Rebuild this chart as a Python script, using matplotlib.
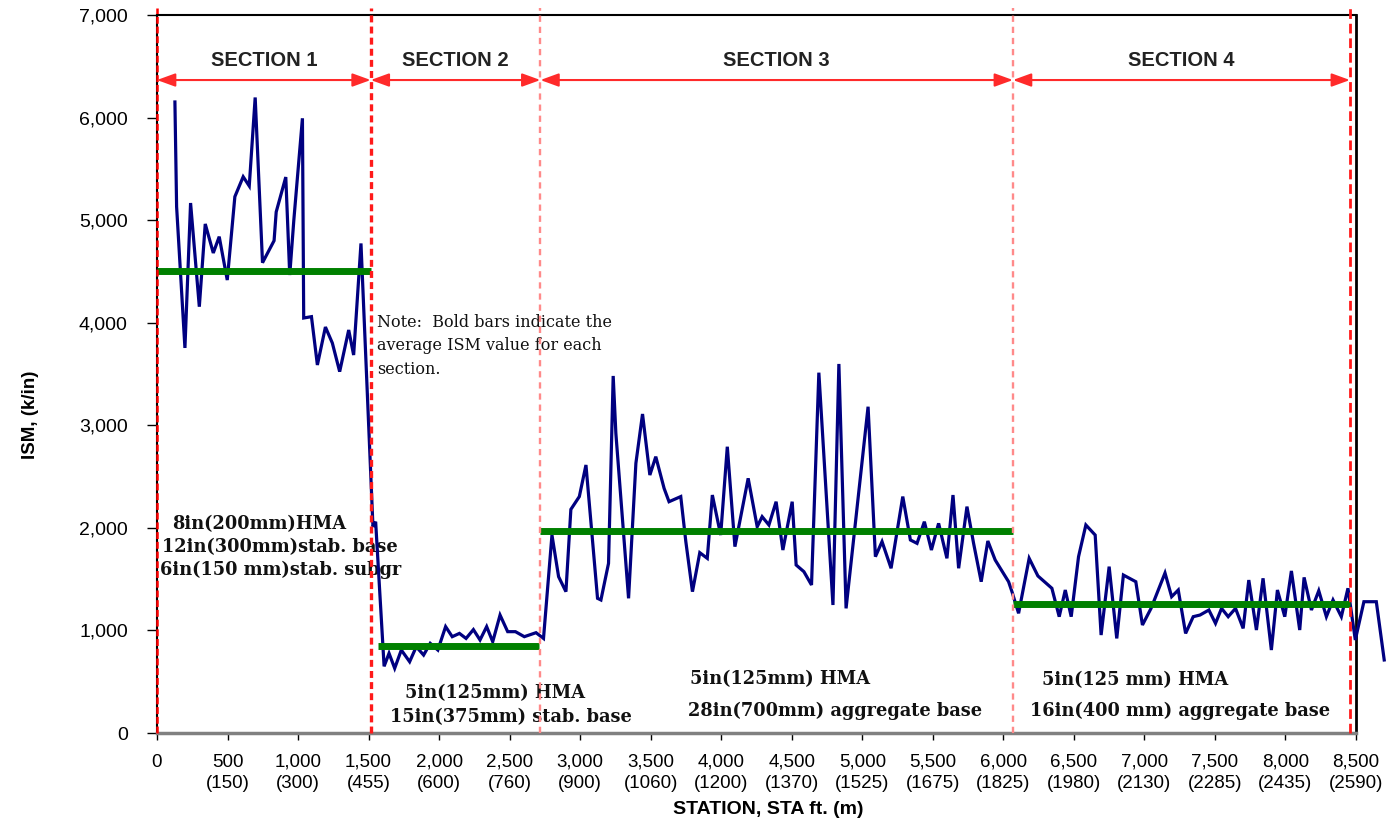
import matplotlib
matplotlib.use("Agg")
import matplotlib.pyplot as plt

plt.rcParams["lines.scale_dashes"] = False

# Stiffness survey along the station line
station_ft = [
    127, 139, 198, 238, 300, 342, 399, 441, 498, 552, 611, 654, 696, 748, 830,
    845, 913, 941, 970, 1031, 1040, 1095, 1137, 1194, 1243, 1295, 1359, 1394,
    1446, 1531, 1550, 1610, 1645, 1685, 1732, 1791, 1838, 1890, 1937, 1991,
    2046, 2093, 2144, 2191, 2243, 2290, 2337, 2380, 2432, 2486, 2541, 2604,
    2687, 2740, 2800, 2847, 2899, 2934, 2994, 3041, 3123, 3147, 3201, 3234,
    3253, 3343, 3395, 3442, 3494, 3536, 3595, 3630, 3713, 3749, 3796, 3848,
    3901, 3937, 3996, 4043, 4097, 4191, 4255, 4290, 4338, 4389, 4437, 4503,
    4531, 4586, 4640, 4692, 4792, 4834, 4885, 5041, 5093, 5140, 5204, 5287,
    5341, 5388, 5440, 5490, 5541, 5600, 5643, 5683, 5742, 5789, 5843, 5890,
    5942, 6037, 6061, 6108, 6183, 6245, 6344, 6396, 6439, 6481, 6533, 6585,
    6651, 6693, 6750, 6804, 6851, 6939, 6986, 7047, 7146, 7193, 7240, 7292,
    7346, 7394, 7457, 7504, 7547, 7594, 7646, 7700, 7740, 7794, 7841, 7900,
    7943, 7995, 8042, 8101, 8132, 8184, 8236, 8290, 8337, 8396, 8443, 8495,
    8556, 8644, 8700,
]
ism_kin = [
    6152, 5131, 3754, 5167, 4156, 4963, 4680, 4839, 4416, 5229, 5423, 5333,
    6196, 4585, 4800, 5080, 5420, 4465, 5000, 5993, 4046, 4059, 3588, 3958,
    3802, 3523, 3929, 3685, 4773, 2011, 2060, 650, 777, 631, 809, 695, 841,
    760, 874, 809, 1037, 939, 971, 922, 1008, 907, 1037, 890, 1150, 988, 988,
    939, 978, 922, 1930, 1524, 1378, 2180, 2305, 2613, 1313, 1297, 1654, 3481,
    2922, 1313, 2630, 3110, 2515, 2694, 2385, 2255, 2305, 1866, 1378, 1758,
    1703, 2320, 1930, 2791, 1817, 2483, 2011, 2109, 2028, 2255, 1784, 2255,
    1638, 1573, 1443, 3513, 1248, 3598, 1215, 3181, 1719, 1866, 1606, 2305,
    1882, 1849, 2060, 1784, 2044, 1703, 2320, 1606, 2207, 1849, 1475, 1872,
    1687, 1475, 1378, 1167, 1703, 1531, 1411, 1134, 1394, 1134, 1719, 2028,
    1930, 955, 1622, 922, 1540, 1475, 1053, 1215, 1560, 1329, 1394, 971,
    1134, 1150, 1199, 1069, 1215, 1134, 1215, 1020, 1491, 1004, 1508, 809,
    1394, 1134, 1580, 1004, 1517, 1199, 1387, 1134, 1297, 1134, 1411, 907,
    1280, 1280, 712,
]

# Section limits and average ISM per section
section_names = ["SECTION 1", "SECTION 2", "SECTION 3", "SECTION 4"]
section_bounds = [0, 1515, 2718, 6068, 8457]
section_avg = [4500, 850, 1970, 1260]
avg_start = [0, 1570, 2718, 6068]
avg_end = [1515, 2711, 6068, 8457]

# Axis ticks: feet with metres underneath
tick_ft = [0, 500, 1000, 1500, 2000, 2500, 3000, 3500, 4000, 4500, 5000,
           5500, 6000, 6500, 7000, 7500, 8000, 8500]
tick_m = [None, 150, 300, 455, 600, 760, 900, 1060, 1200, 1370, 1525, 1675,
          1825, 1980, 2130, 2285, 2435, 2590]
yticks = [0, 1000, 2000, 3000, 4000, 5000, 6000, 7000]

W, H = 1393, 822
fig = plt.figure(figsize=(W / 100, H / 100), dpi=100)
ax = fig.add_axes([157 / W, 1 - 733 / H, (1356 - 157) / W, (733 - 15) / H])
ax.set_xlim(0, 8500)
ax.set_ylim(0, 7000)

sans = ["Liberation Sans", "DejaVu Sans"]
serif = ["DejaVu Serif"]

# measured stiffness trace
ax.plot(station_ft, ism_kin, color="#000080", lw=2.3, zorder=3,
        clip_on=False, solid_joinstyle="miter")

# bold bars: section averages
for x0, x1, v in zip(avg_start, avg_end, section_avg):
    ax.plot([x0, x1], [v, v], color="#008000", lw=5, zorder=4,
            solid_capstyle="butt")

# section boundaries
bold = {0: ("#ff0000", 1.8, (5, 2)), 1: ("#ff1a1a", 2.4, (5, 3)),
        2: ("#ff8a8a", 1.7, (4.5, 3.5)), 3: ("#ff8a8a", 1.7, (4.5, 3.5)),
        4: ("#ff1a1a", 2.0, (7, 3.5))}
for i, xb in enumerate(section_bounds):
    c, lw, d = bold[i]
    ax.axvline(xb, ymin=0, ymax=1.01, color=c, lw=lw, dashes=d, zorder=5,
               clip_on=False)

# section extent arrows and titles
arrow_y = 6366
for i, name in enumerate(section_names):
    x0, x1 = section_bounds[i], section_bounds[i + 1]
    ax.annotate("", xy=(x1, arrow_y), xytext=(x0, arrow_y),
                arrowprops=dict(arrowstyle="<|-|>,head_length=0.55,head_width=0.2",
                                color="#ff2a2a", lw=1.5, shrinkA=0, shrinkB=0,
                                mutation_scale=20), zorder=6)
    ax.text((x0 + x1) / 2, 6560, name, ha="center", va="center",
            fontsize=14.5, fontweight="bold", family=sans, color="#222222")


def px(x, y):
    return (x - 157) * 8500 / 1199, (733 - y) * 7000 / 718


layer_notes = [
    ("8in(200mm)HMA", 172, 524),
    ("12in(300mm)stab. base", 162, 547),
    ("6in(150 mm)stab. subgr", 160, 570),
    ("5in(125mm) HMA", 405, 693),
    ("15in(375mm) stab. base", 390, 717),
    ("5in(125mm) HMA", 690, 679),
    ("28in(700mm) aggregate base", 688, 711),
    ("5in(125 mm) HMA", 1042, 680),
    ("16in(400 mm) aggregate base", 1030, 711),
]
for txt, x, y in layer_notes:
    xd, yd = px(x, y)
    ax.text(xd, yd, txt, ha="left", va="center", fontsize=12.8,
            fontweight="bold", family=serif, color="#111111", zorder=1)

xd, yd = px(377, 314)
ax.text(xd, yd, "Note:  Bold bars indicate the\naverage ISM value for each\nsection.",
        ha="left", va="top", fontsize=11.5, family=serif, color="#111111",
        linespacing=1.5, zorder=1)

# axes styling
ax.set_yticks(yticks)
ax.set_yticklabels([f"{v:,}" for v in yticks], family=sans, fontsize=14)
ax.set_xticks(tick_ft)
ax.set_xticklabels([f"{f:,}" if m is None else f"{f:,}\n({m})"
                    for f, m in zip(tick_ft, tick_m)],
                   family=sans, fontsize=13.5, linespacing=1.35)
ax.tick_params(axis="y", direction="out", length=7, width=1, pad=14)
ax.tick_params(axis="x", direction="out", length=5, width=1, pad=10)

for side in ("top", "left"):
    ax.spines[side].set_color("black")
    ax.spines[side].set_linewidth(1.5)
ax.spines["right"].set_color("black")
ax.spines["right"].set_linewidth(2)
ax.spines["bottom"].set_color("#808080")
ax.spines["bottom"].set_linewidth(2.5)

ax.set_xlabel("STATION, STA ft. (m)", fontsize=14, fontweight="bold",
              family=sans)
ax.xaxis.set_label_coords(0.51, -0.095)
ax.set_ylabel("ISM, (k/in)", fontsize=13.5, fontweight="bold", family=sans)
ax.yaxis.set_label_coords(-0.098, 0.443)

fig.savefig("out.png", dpi=100)
